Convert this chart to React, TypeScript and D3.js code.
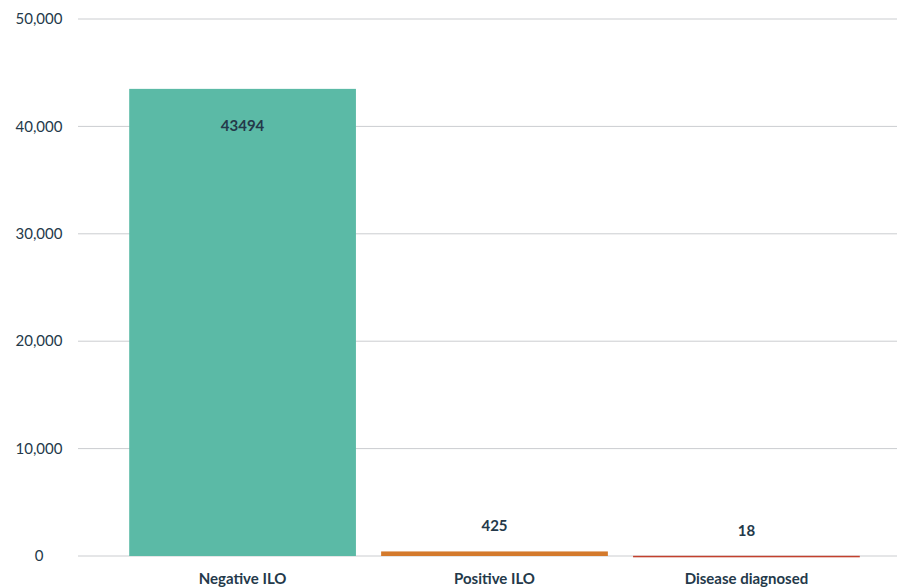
import * as d3 from "d3";
import { useEffect, useRef } from "react";

const categories = ["Negative ILO", "Positive ILO", "Disease diagnosed"];
const values = [43494, 425, 18];
const barColors = ["#5bbaa6", "#d47a2c", "#c2412e"];
const yTicks = [0, 10000, 20000, 30000, 40000, 50000];

export default function App() {
  const ref = useRef<SVGSVGElement>(null);
  const width = 897,
    height = 587;

  useEffect(() => {
    const svg = d3.select(ref.current);
    svg.selectAll("*").remove();

    const font = "Lato, 'Open Sans', sans-serif";
    const textColor = "#24394a";

    const y = d3.scaleLinear().domain([0, 50000]).range([556, 19]);
    const x = d3
      .scaleBand()
      .domain(categories)
      .range([104, 885])
      .paddingInner(0.1)
      .paddingOuter(0.1);

    // grid lines
    svg
      .append("g")
      .selectAll("line")
      .data(yTicks)
      .join("line")
      .attr("x1", 78)
      .attr("x2", width)
      .attr("y1", (d) => y(d))
      .attr("y2", (d) => y(d))
      .attr("stroke", "#cbcdd0")
      .attr("stroke-width", 1);

    // y tick labels
    svg
      .append("g")
      .selectAll("text")
      .data(yTicks)
      .join("text")
      .attr("x", 39)
      .attr("y", (d) => y(d))
      .attr("dy", "0.35em")
      .attr("text-anchor", "middle")
      .attr("font-family", font)
      .attr("font-size", 15)
      .attr("fill", textColor)
      .text((d) => d3.format(",")(d));

    // bars
    svg
      .append("g")
      .selectAll("rect")
      .data(values)
      .join("rect")
      .attr("x", (_, i) => x(categories[i])!)
      .attr("width", x.bandwidth())
      .attr("y", (d) => y(d))
      .attr("height", (d) => Math.max(y(0) - y(d), 1.5))
      .attr("fill", (_, i) => barColors[i]);

    // value labels
    svg
      .append("g")
      .selectAll("text")
      .data(values)
      .join("text")
      .attr("x", (_, i) => x(categories[i])! + x.bandwidth() / 2)
      .attr("y", (d) => (y(0) - y(d) > 60 ? y(d) + 42 : y(d) - 20))
      .attr("text-anchor", "middle")
      .attr("font-family", font)
      .attr("font-weight", 700)
      .attr("font-size", 15)
      .attr("fill", textColor)
      .text((d) => d);

    // category labels
    svg
      .append("g")
      .selectAll("text")
      .data(categories)
      .join("text")
      .attr("x", (d) => x(d)! + x.bandwidth() / 2)
      .attr("y", 584)
      .attr("text-anchor", "middle")
      .attr("font-family", font)
      .attr("font-weight", 700)
      .attr("font-size", 15)
      .attr("fill", textColor)
      .text((d) => d);
  }, []);

  return (
    <svg
      ref={ref}
      width={width}
      height={height}
      style={{ position: "absolute", left: 0, top: 0, background: "#fff" }}
    />
  );
}
